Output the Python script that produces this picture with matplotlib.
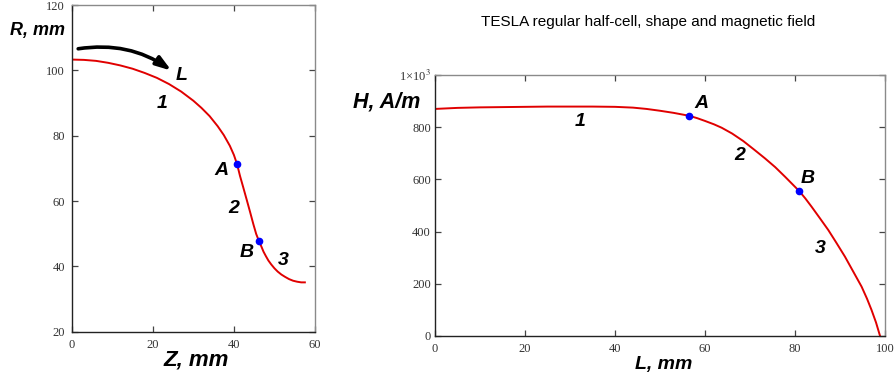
import matplotlib
matplotlib.use("Agg")
import matplotlib.pyplot as plt
from matplotlib.ticker import FixedLocator, FuncFormatter

plt.rcParams['mathtext.fontset'] = 'stix'

# cell contour, Z (mm) vs R (mm)
z_mm = [0, 3, 6, 9, 12, 15, 18, 21, 24, 27, 30, 32, 34, 36, 37.5, 39, 40, 40.8,
        41.5, 42.3, 43.2, 44.0, 44.8, 45.5, 46.2, 46.8, 47.3, 47.9, 48.5, 49.2,
        50.0, 50.8, 51.7, 52.6, 53.6, 54.6, 55.6, 56.6, 57.5]
r_mm = [103.3, 103.2, 102.9, 102.3, 101.5, 100.5, 99.2, 97.7, 95.8, 93.5, 90.7,
        88.5, 86.0, 82.9, 80.2, 76.9, 74.1, 71.2, 67.7, 64.2, 60.2, 56.6, 52.9,
        49.9, 47.7, 46.0, 44.5, 43.1, 41.8, 40.6, 39.4, 38.4, 37.5, 36.8, 36.1,
        35.6, 35.3, 35.1, 35.1]
pts_z = [40.8, 46.2]
pts_r = [71.2, 47.7]

# surface magnetic field along the contour length
l_mm = [0, 5, 10, 15, 20, 25, 30, 35, 40, 44, 47, 50, 53, 56.4, 58.2, 60, 62,
        63.7, 66, 68.5, 71, 73.3, 75.6, 77.8, 80.9, 82.3, 83.7, 85.5, 87.4,
        89.2, 91.1, 93, 94.8, 96, 97, 98, 98.9]
h_am = [870, 874, 876, 877, 878, 879, 879, 879, 878, 875, 870, 863, 855, 844,
        835, 824, 811, 798, 776, 747, 713, 681, 647, 610, 556, 527, 495, 452,
        406, 357, 304, 245, 189, 143, 100, 52, 0]
pts_l = [56.4, 80.9]
pts_h = [844, 556]

left_ticks_x = [0, 20, 40, 60]
left_ticks_y = [20, 40, 60, 80, 100, 120]
right_ticks_x = [0, 20, 40, 60, 80, 100]
right_ticks_y = [0, 200, 400, 600, 800, 1000]

W, H = 895, 381
fig = plt.figure(figsize=(W / 100, H / 100), dpi=100)

lab_font = dict(family='Liberation Sans', weight='bold', style='italic', color='black')


def px(x, y):
    return x / W, 1 - y / H


def style_axes(ax, ypad):
    ax.spines['left'].set_color('#222222')
    ax.spines['bottom'].set_color('#222222')
    ax.spines['top'].set_color('#8a8a8a')
    ax.spines['right'].set_color('#8a8a8a')
    for s in ax.spines.values():
        s.set_linewidth(1.0)
    ax.tick_params(direction='in', length=4, width=0.9, top=True, right=True,
                   colors='#444444', labelcolor='#333333')
    ax.tick_params(axis='x', pad=5)
    ax.tick_params(axis='y', pad=ypad)
    for t in ax.get_xticklabels() + ax.get_yticklabels():
        t.set_fontfamily('Liberation Serif')
        t.set_fontsize(9)


# left panel: shape
ax1 = fig.add_axes([71.7 / W, 1 - 331.7 / H, (315 - 71.7) / W, (331.7 - 5) / H])
ax1.plot(z_mm, r_mm, color='#e00000', lw=1.4)
ax1.plot(pts_z, pts_r, 'o', color='#0000ff', ms=4.5)
ax1.set_xlim(0, 60)
ax1.set_ylim(20, 120)
ax1.xaxis.set_major_locator(FixedLocator(left_ticks_x))
ax1.yaxis.set_major_locator(FixedLocator(left_ticks_y))
style_axes(ax1, 5)

ax1.annotate('', xy=(24.6, 99.9), xytext=(1.6, 106.6),
             arrowprops=dict(arrowstyle='-|>,head_length=0.9,head_width=0.3',
                             color='black', lw=2.6,
                             connectionstyle='arc3,rad=-0.2',
                             shrinkA=0, shrinkB=0))
for txt, x, y in [('L', 27.1, 98.3), ('1', 22.2, 89.9), ('A', 37.0, 69.3),
                  ('2', 39.9, 57.6), ('B', 43.2, 44.2), ('3', 52.2, 41.9)]:
    ax1.text(x, y, txt, ha='center', va='center', fontsize=14, **lab_font)

# right panel: field
ax2 = fig.add_axes([435 / W, 1 - 336 / H, 450 / W, 261 / H])
ax2.plot(l_mm, h_am, color='#e00000', lw=1.4)
ax2.plot(pts_l, pts_h, 'o', color='#0000ff', ms=4.5)
ax2.set_xlim(0, 100)
ax2.set_ylim(0, 1000)
ax2.xaxis.set_major_locator(FixedLocator(right_ticks_x))
ax2.yaxis.set_major_locator(FixedLocator(right_ticks_y))
ax2.yaxis.set_major_formatter(FuncFormatter(
    lambda v, p: '1×10$^3$' if v == 1000 else '%d' % v))
style_axes(ax2, 3)

for txt, x, y in [('A', 59.3, 891), ('1', 32.2, 821), ('2', 67.8, 690),
                  ('B', 82.8, 604), ('3', 85.6, 336)]:
    ax2.text(x, y, txt, ha='center', va='center', fontsize=14, **lab_font)

# axis titles
fig.text(*px(37.5, 30.7), 'R, mm', ha='center', va='center', fontsize=13, **lab_font)
fig.text(*px(196, 360), 'Z, mm', ha='center', va='center', fontsize=16, **lab_font)
fig.text(*px(387, 101.7), 'H, A/m', ha='center', va='center', fontsize=15.5, **lab_font)
fig.text(*px(664, 365), 'L, mm', ha='center', va='center', fontsize=14, **lab_font)
fig.text(*px(648, 22), 'TESLA regular half-cell, shape and magnetic field',
         ha='center', va='center', fontsize=11, family='Liberation Sans')

fig.savefig('out.png', dpi=100)
